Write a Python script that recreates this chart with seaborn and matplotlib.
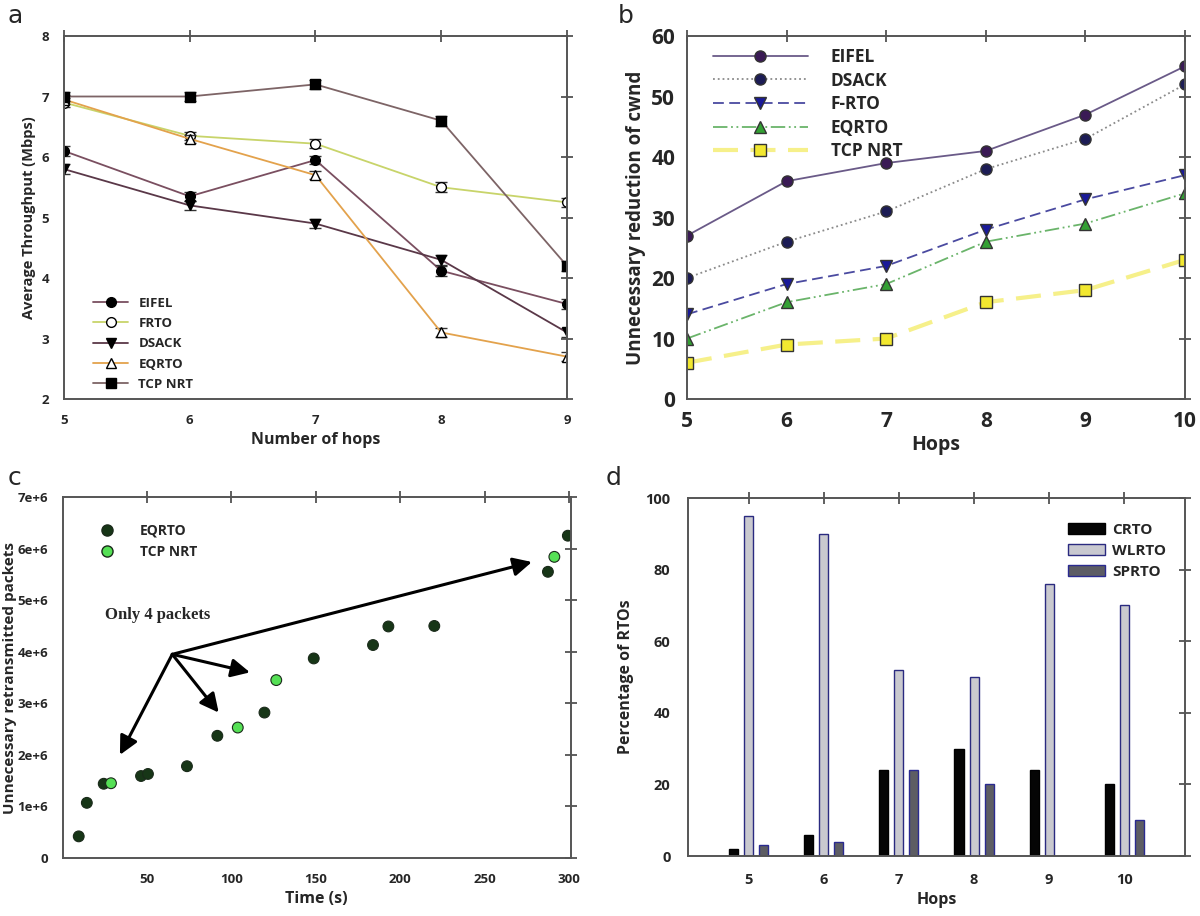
import numpy as np
import pandas as pd
import seaborn as sns
import matplotlib.pyplot as plt
from matplotlib.ticker import FuncFormatter
from matplotlib.patches import Patch
from matplotlib.lines import Line2D

# Panel a: average throughput vs number of hops
hops_a = [5, 6, 7, 8, 9]
eifel_a = [6.1, 5.35, 5.95, 4.12, 3.57]
frto_a = [6.9, 6.35, 6.22, 5.5, 5.25]
dsack_a = [5.8, 5.2, 4.9, 4.3, 3.1]
eqrto_a = [6.95, 6.3, 5.7, 3.1, 2.7]
nrt_a = [7.0, 7.0, 7.2, 6.6, 4.2]
err_a = [0.08, 0.07, 0.07, 0.08, 0.08]

# Panel b: unnecessary reduction of cwnd
hops_b = [5, 6, 7, 8, 9, 10]
eifel_b = [27, 36, 39, 41, 47, 55]
dsack_b = [20, 26, 31, 38, 43, 52]
frto_b = [14, 19, 22, 28, 33, 37]
eqrto_b = [10, 16, 19, 26, 29, 34]
nrt_b = [6, 9, 10, 16, 18, 23]

# Panel c: unnecessary retransmitted packets over time
eqrto_t = [9.6, 14.4, 24.4, 46.5, 50.6, 73.7, 91.7, 119.6, 148.8, 183.9, 193.0, 220.2, 287.5, 299.3]
eqrto_p = [0.42e6, 1.07e6, 1.44e6, 1.59e6, 1.63e6, 1.78e6, 2.37e6, 2.82e6, 3.87e6, 4.13e6, 4.49e6, 4.50e6, 5.55e6, 6.25e6]
nrt_t = [28.7, 103.8, 126.6, 291.3]
nrt_p = [1.45e6, 2.53e6, 3.45e6, 5.84e6]

# Panel d: percentage of RTOs
hops_d = [5, 6, 7, 8, 9, 10]
crto_d = [2, 6, 24, 30, 24, 20]
wlrto_d = [95, 90, 52, 50, 76, 70]
sprto_d = [3, 4, 24, 20, 0, 10]

sns.set_style("white")
plt.rcParams['font.family'] = ['Open Sans', 'DejaVu Sans']
plt.rcParams['font.weight'] = 'bold'
plt.rcParams['axes.labelweight'] = 'bold'

fig = plt.figure(figsize=(12, 9.16), dpi=100)
ax_a = fig.add_axes([0.0533, 0.5644, 0.4192, 0.3963])
ax_b = fig.add_axes([0.5725, 0.5644, 0.4150, 0.3963])
ax_c = fig.add_axes([0.0521, 0.0633, 0.4235, 0.3941])
ax_d = fig.add_axes([0.5733, 0.0655, 0.4142, 0.3908])


def frame(ax, size, pad=4):
    for s in ax.spines.values():
        s.set_visible(True)
        s.set_color('#555555')
        s.set_linewidth(1.4)
    ax.tick_params(direction='inout', length=9, width=1.2, color='#444444',
                   top=True, right=True, labelsize=size, pad=pad)


# ---- a ----
series_a = [
    ("EIFEL", eifel_a, '#7a4f60', 'o', 'black'),
    ("FRTO", frto_a, '#c8d46a', 'o', 'white'),
    ("DSACK", dsack_a, '#5a3848', 'v', 'black'),
    ("EQRTO", eqrto_a, '#e3a24c', '^', 'white'),
    ("TCP NRT", nrt_a, '#7d6466', 's', 'black'),
]
for name, vals, col, mk, fc in series_a:
    ax_a.errorbar(hops_a, vals, yerr=err_a, fmt='none', ecolor='#333333',
                  capsize=4, elinewidth=1, capthick=1)
    sns.lineplot(x=hops_a, y=vals, ax=ax_a, color=col, lw=1.3, marker=mk,
                 markersize=7, markerfacecolor=fc, markeredgecolor='black',
                 markeredgewidth=1, label=name)
ax_a.set_xlim(5, 9)
ax_a.set_ylim(2, 8)
ax_a.set_xticks(hops_a)
ax_a.set_yticks(range(2, 9))
ax_a.set_xlabel("Number of hops", fontsize=11.5)
ax_a.set_ylabel("Average Throughput (Mbps)", fontsize=10.5)
frame(ax_a, 9.5, pad=6)
ax_a.legend(loc='lower left', bbox_to_anchor=(0.035, -0.01), frameon=False,
            prop={'weight': 'bold', 'size': 9.5}, handlelength=2.6,
            handletextpad=0.8, labelspacing=0.55)

# ---- b ----
series_b = [
    ("EIFEL", eifel_b, '#6a5a88', '-', 'o', '#3a1a55', 1.3),
    ("DSACK", dsack_b, '#8a8a8a', ':', 'o', '#1c1c55', 1.3),
    ("F-RTO", frto_b, '#4a4aa0', (0, (6, 3)), 'v', '#1a1a99', 1.3),
    ("EQRTO", eqrto_b, '#6ab46a', (0, (8, 2, 1, 2, 1, 2)), '^', '#33a033', 1.3),
    ("TCP NRT", nrt_b, '#f6f08a', (0, (6, 3)), 's', '#f2e830', 3),
]
for name, vals, col, ls, mk, mfc, lw in series_b:
    ax_b.plot(hops_b, vals, color=col, linestyle=ls, lw=lw, marker=mk,
              markersize=8, markerfacecolor=mfc, markeredgecolor='#333333',
              markeredgewidth=1, label=name)
ax_b.set_xlim(5, 10)
ax_b.set_ylim(0, 60)
ax_b.set_xticks(hops_b)
ax_b.set_yticks(range(0, 61, 10))
ax_b.set_xlabel("Hops", fontsize=14, labelpad=2)
ax_b.set_ylabel("Unnecessary reduction of cwnd", fontsize=13.5)
frame(ax_b, 15)
ax_b.legend(loc='upper left', bbox_to_anchor=(0.02, 1.01), frameon=False,
            prop={'weight': 'bold', 'size': 12.5}, handlelength=5.5,
            handletextpad=1.3, labelspacing=0.32)

# ---- c ----
df_c = pd.DataFrame({
    "t": eqrto_t + nrt_t,
    "p": eqrto_p + nrt_p,
    "kind": ["EQRTO"] * len(eqrto_t) + ["TCP NRT"] * len(nrt_t),
})
sns.scatterplot(data=df_c, x="t", y="p", hue="kind", ax=ax_c,
                palette={"EQRTO": '#173617', "TCP NRT": '#55e055'},
                s=60, edgecolor='#1a2a1a', linewidth=0.8, legend=False)
ax_c.set_xlim(0, 301)
ax_c.set_ylim(0, 7e6)
ax_c.set_xticks([50, 100, 150, 200, 250, 300])
ax_c.set_yticks(np.arange(0, 7.1e6, 1e6))
ax_c.yaxis.set_major_formatter(FuncFormatter(
    lambda v, p: "0" if v == 0 else "%de+6" % round(v / 1e6)))
ax_c.set_xlabel("Time (s)", fontsize=11.5)
ax_c.set_ylabel("Unnecessary retransmitted packets", fontsize=11)
ax_c.yaxis.set_label_coords(-0.09, 0.5)
frame(ax_c, 9.5, pad=6)
handles_c = [
    Line2D([], [], ls='none', marker='o', markersize=8, markerfacecolor='#173617',
           markeredgecolor='#1a2a1a', label='EQRTO'),
    Line2D([], [], ls='none', marker='o', markersize=8, markerfacecolor='#55e055',
           markeredgecolor='#1a2a1a', label='TCP NRT'),
]
ax_c.legend(handles=handles_c, loc='upper left', bbox_to_anchor=(0.035, 0.96),
            frameon=False, prop={'weight': 'bold', 'size': 10},
            handletextpad=1.4, labelspacing=0.5)
ax_c.text(25, 4.72e6, "Only 4 packets", family='Liberation Serif',
          fontsize=12, fontweight='bold', va='center')
origin = (65, 3.95e6)
for tip in [(34, 2.0e6), (92.5, 2.82e6), (111, 3.6e6), (278, 5.74e6)]:
    ax_c.annotate("", xy=tip, xytext=origin,
                  arrowprops=dict(arrowstyle='-|>', color='black', lw=2.2,
                                  mutation_scale=28, shrinkA=0, shrinkB=0))

# ---- d ----
df_d = pd.DataFrame({
    "Hops": hops_d * 3,
    "pct": crto_d + wlrto_d + sprto_d,
    "kind": ["CRTO"] * 6 + ["WLRTO"] * 6 + ["SPRTO"] * 6,
})
pal_d = {"CRTO": '#050505', "WLRTO": '#c8c8d0', "SPRTO": '#5c5c64'}
edge_d = {"CRTO": '#000000', "WLRTO": '#2a2a80', "SPRTO": '#2a2a90'}
sns.barplot(data=df_d, x="Hops", y="pct", hue="kind", palette=pal_d, ax=ax_d,
            width=0.6, gap=0.4, legend=False)
for cont, name in zip(ax_d.containers, ["CRTO", "WLRTO", "SPRTO"]):
    for bar in cont:
        bar.set_edgecolor(edge_d[name])
        bar.set_linewidth(1.0)
ax_d.set_xlim(-0.81, 5.81)
ax_d.set_ylim(0, 100)
ax_d.set_yticks(range(0, 101, 20))
ax_d.set_xlabel("Hops", fontsize=11.5, labelpad=3)
ax_d.set_ylabel("Percentage of RTOs", fontsize=11.5, labelpad=8)
frame(ax_d, 10.5, pad=8)
handles_d = [Patch(facecolor=pal_d[k], edgecolor=edge_d[k], label=k)
             for k in ["CRTO", "WLRTO", "SPRTO"]]
ax_d.legend(handles=handles_d, loc='upper right', bbox_to_anchor=(0.99, 0.97),
            frameon=False, prop={'weight': 'bold', 'size': 11},
            handlelength=2.4, handleheight=0.8, handletextpad=0.5,
            labelspacing=0.45)

for lab, (x, y) in zip("abcd", [(0.006, 0.975), (0.515, 0.975),
                                 (0.006, 0.4705), (0.505, 0.4705)]):
    fig.text(x, y, lab, fontsize=18, fontweight='normal',
             family='DejaVu Sans', va='baseline')

fig.savefig("out.png", dpi=100)
